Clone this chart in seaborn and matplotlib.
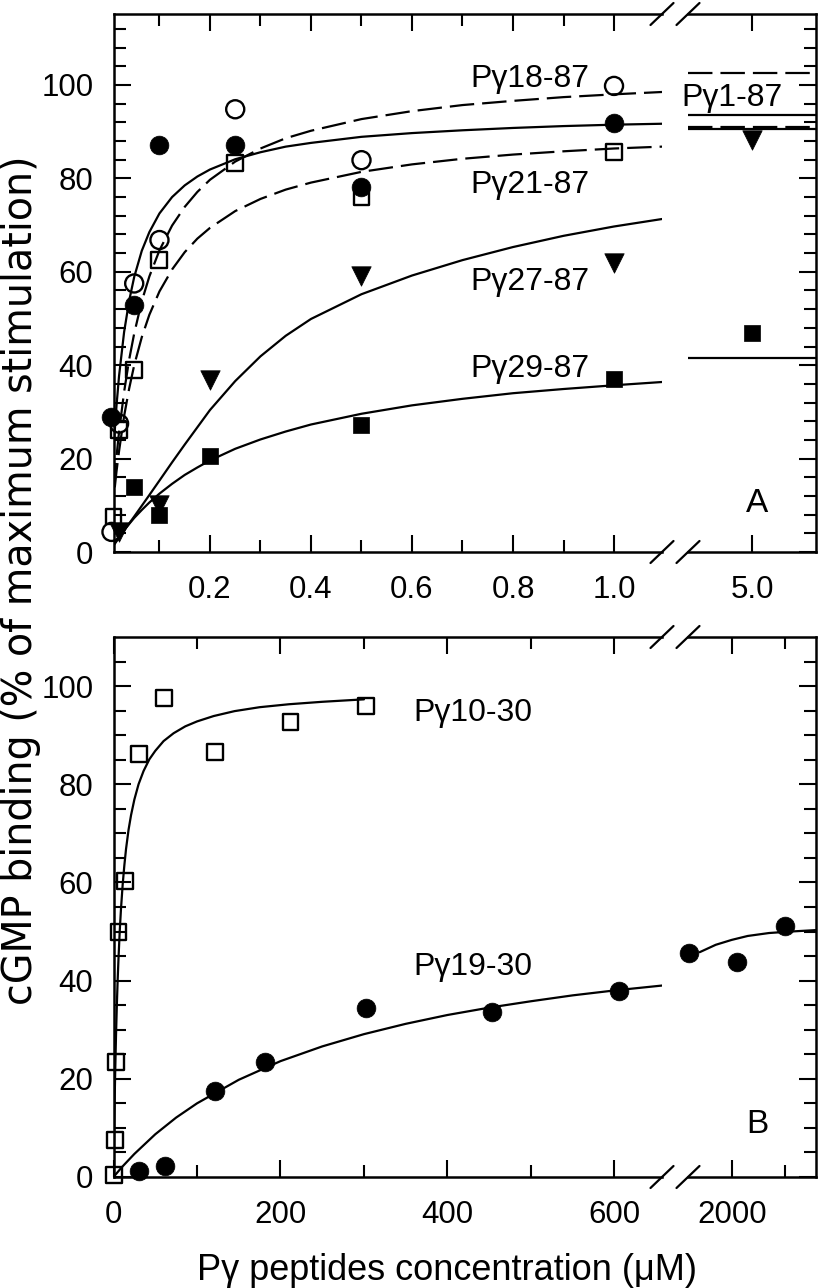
import matplotlib
matplotlib.use("Agg")
import matplotlib.pyplot as plt
import seaborn as sns

# ---------------- data ----------------
# Panel A : concentration in uM (left part 0-1.09, right part around 5.0)
a18_x = [0.005, 0.02, 0.05, 0.1, 0.25, 0.5, 1.0]
a18_y = [4.3, 27.5, 57.5, 66.8, 94.8, 83.9, 99.8]
a1_x = [0.005, 0.05, 0.1, 0.25, 0.5, 1.0]
a1_y = [29.0, 52.9, 87.2, 87.2, 78.2, 91.8]
a21_x = [0.009, 0.02, 0.05, 0.1, 0.25, 0.5, 1.0]
a21_y = [7.6, 26.1, 39.0, 62.5, 83.2, 76.1, 85.7]
a27_x = [0.02, 0.1, 0.2, 0.5, 1.0]
a27_y = [4.3, 10.1, 36.8, 59.0, 61.8]
a29_x = [0.05, 0.1, 0.2, 0.5, 1.0]
a29_y = [14.0, 7.9, 20.6, 27.2, 37.0]
a_right_x = [5.0]
a27_right_y = [88.2]
a29_right_y = [46.8]

# fitted curves, panel A
ca_x = [0, 0.005, 0.01, 0.015, 0.02, 0.03, 0.04, 0.05, 0.065, 0.08, 0.1,
        0.125, 0.15, 0.175, 0.2, 0.25, 0.3, 0.35, 0.4, 0.5, 0.6, 0.7, 0.8,
        0.9, 1.0, 1.095]
ca18_y = [0, 7.9, 14.6, 20.5, 25.7, 34.3, 41.2, 46.8, 53.7, 59.0, 64.6,
          69.9, 73.9, 77.1, 79.7, 83.6, 86.4, 88.6, 90.2, 92.7, 94.4, 95.7,
          96.6, 97.4, 98.0, 98.5]
ca1_y = [0, 13.5, 23.6, 31.4, 37.7, 47.1, 53.8, 58.9, 64.5, 68.5, 72.5,
         76.0, 78.5, 80.4, 81.9, 84.1, 85.6, 86.8, 87.6, 88.9, 89.7, 90.3,
         90.8, 91.2, 91.5, 91.7]
ca21_y = [0, 6.6, 12.3, 17.3, 21.6, 29.1, 35.0, 40.0, 46.0, 50.8, 55.8,
          60.5, 64.2, 67.1, 69.4, 73.0, 75.6, 77.6, 79.1, 81.4, 83.0, 84.2,
          85.1, 85.8, 86.4, 86.8]
ca27_y = [0, 0.8, 1.5, 2.3, 3.0, 4.6, 6.1, 7.6, 9.9, 12.2, 15.3,
          19.2, 23.0, 26.7, 30.4, 36.6, 41.9, 46.3, 49.9, 55.2, 59.2, 62.5,
          65.3, 67.7, 69.7, 71.3]
ca29_y = [0, 0.85, 1.7, 2.5, 3.2, 4.7, 6.0, 7.3, 9.0, 10.6, 12.5,
          14.6, 16.5, 18.1, 19.6, 22.1, 24.1, 25.8, 27.3, 29.6, 31.4, 32.8,
          34.0, 34.9, 35.7, 36.4]
cr_x = [4.0, 6.0]
cr18_y = [102.5, 102.5]
cr1_y = [93.6, 93.6]
cr21_y = [90.9, 90.9]
cr27_y = [90.5, 90.5]
cr29_y = [41.5, 41.5]

# Panel B : concentration in uM (left 0-657, right around 2000)
b10_x = [1.0, 2.0, 3.0, 6.0, 14.0, 31.0, 61.0, 122.0, 212.0, 302.0]
b10_y = [0.4, 7.5, 23.5, 50.0, 60.3, 86.1, 97.5, 86.6, 92.6, 96.0]
b19_x = [31, 62, 121, 182, 303, 453, 605]
b19_y = [1.2, 2.2, 17.5, 23.4, 34.4, 33.6, 37.9]
b19r_x = [1600, 2050, 2500]
b19r_y = [45.6, 43.8, 51.2]

cb10_x = [0, 0.5, 1, 1.5, 2, 3, 4, 5, 6, 7.5, 9, 11, 13, 15, 18, 21, 25, 30,
          36, 43, 50, 60, 72, 86, 100, 120, 145, 175, 210, 250, 300]
cb10_y = [0, 6.3, 11.9, 16.8, 21.2, 28.8, 35.0, 40.2, 44.6, 50.2, 54.7, 59.6,
          63.5, 66.8, 70.7, 73.7, 76.9, 80.0, 82.7, 85.1, 86.8, 88.8, 90.4,
          91.8, 92.8, 93.9, 94.9, 95.7, 96.3, 96.8, 97.3]
cb19_x = [0, 10, 25, 50, 75, 100, 150, 200, 250, 300, 350, 400, 450, 500,
          550, 600, 657]
cb19_y = [0, 2.0, 4.7, 8.7, 12.1, 15.0, 19.8, 23.6, 26.6, 29.1, 31.2, 33.0,
          34.5, 35.8, 37.0, 38.0, 39.0]
cb19r_x = [1700, 1850, 2000, 2150, 2350, 2550, 2795]
cb19r_y = [45.8, 47.3, 48.3, 49.1, 49.7, 50.0, 50.3]

# tick labels
a_xticks = [0.2, 0.4, 0.6, 0.8, 1.0]
a_xticklabels = ["0.2", "0.4", "0.6", "0.8", "1.0"]
a_xticks_r = [5.0]
a_xticklabels_r = ["5.0"]
b_xticks = [0, 200, 400, 600]
b_xticklabels = ["0", "200", "400", "600"]
b_xticks_r = [2000]
b_xticklabels_r = ["2000"]
y_ticks = [0, 20, 40, 60, 80, 100]
y_ticklabels = ["0", "20", "40", "60", "80", "100"]

# ---------------- style ----------------
sns.set_style("ticks")
plt.rcParams["font.family"] = ["Liberation Sans", "DejaVu Sans"]
plt.rcParams["text.color"] = "black"
plt.rcParams["xtick.color"] = "black"
plt.rcParams["ytick.color"] = "black"
plt.rcParams["axes.labelcolor"] = "black"
plt.rcParams["axes.linewidth"] = 1.8
plt.rcParams["axes.edgecolor"] = "black"

W, H = 820, 1288
fig = plt.figure(figsize=(W / 100, H / 100), dpi=100)
fig.patch.set_facecolor("white")


def ax_at(x0, y0, x1, y1):
    return fig.add_axes([x0 / W, 1 - y1 / H, (x1 - x0) / W, (y1 - y0) / H])


axAL = ax_at(113.5, 14, 662, 552)
axAR = ax_at(688, 14, 816.5, 552)
axBL = ax_at(113.5, 637, 662, 1177)
axBR = ax_at(688, 637, 816.5, 1177)

LW = 1.6


def curve(ax, x, y, dashed=False):
    sns.lineplot(x=x, y=y, ax=ax, color="black", lw=LW, estimator=None,
                 sort=False, legend=False)
    ln = ax.lines[-1]
    ln.set_solid_joinstyle("round")
    if dashed:
        ln.set_dashes([11, 3.6])


def pts(ax, x, y, marker, filled, ms):
    if filled:
        sns.scatterplot(x=x, y=y, ax=ax, marker=marker, s=ms ** 2,
                        color="black", edgecolor="black", linewidth=0.5,
                        legend=False, zorder=3)
    else:
        sns.scatterplot(x=x, y=y, ax=ax, marker=marker, s=ms ** 2,
                        color="black", facecolor="none", edgecolor="black",
                        linewidth=1.7, legend=False, zorder=3)
    ax.collections[-1].set_clip_on(False)


# ---- Panel A left
curve(axAL, ca_x, ca18_y, dashed=True)
curve(axAL, ca_x, ca1_y)
curve(axAL, ca_x, ca21_y, dashed=True)
curve(axAL, ca_x, ca27_y)
curve(axAL, ca_x, ca29_y)
pts(axAL, a18_x, a18_y, "o", False, 13)
pts(axAL, a1_x, a1_y, "o", True, 13.5)
pts(axAL, a21_x, a21_y, "s", False, 11.5)
pts(axAL, a27_x, a27_y, "v", True, 14)
pts(axAL, a29_x, a29_y, "s", True, 12)

# ---- Panel A right
curve(axAR, cr_x, cr18_y, dashed=True)
curve(axAR, cr_x, cr1_y)
curve(axAR, cr_x, cr21_y, dashed=True)
curve(axAR, cr_x, cr27_y)
curve(axAR, cr_x, cr29_y)
pts(axAR, a_right_x, a27_right_y, "v", True, 14)
pts(axAR, a_right_x, a29_right_y, "s", True, 12)

# ---- Panel B left
curve(axBL, cb10_x, cb10_y)
curve(axBL, cb19_x, cb19_y)
pts(axBL, b10_x, b10_y, "s", False, 11.5)
pts(axBL, b19_x, b19_y, "o", True, 13.5)

# ---- Panel B right
curve(axBR, cb19r_x, cb19r_y)
pts(axBR, b19r_x, b19r_y, "o", True, 13.5)

# ---------------- axes formatting ----------------
for ax in (axAL, axAR):
    ax.set_ylim(0, 115.2)
    ax.set_yticks(y_ticks)
    ax.set_yticks([v for v in range(4, 116, 4) if v % 20], minor=True)
for ax in (axBL, axBR):
    ax.set_ylim(0, 110)
    ax.set_yticks(y_ticks)
    ax.set_yticks([v for v in range(5, 110, 5) if v % 20], minor=True)

axAL.set_xlim(0.009, 1.095)
axAL.set_xticks(a_xticks)
axAL.set_xticklabels(a_xticklabels)
axAL.set_xticks([0.1, 0.3, 0.5, 0.7, 0.9], minor=True)
axAR.set_xlim(4.0, 6.0)
axAR.set_xticks(a_xticks_r)
axAR.set_xticklabels(a_xticklabels_r)
axAR.set_xticks([], minor=True)

axBL.set_xlim(0, 657)
axBL.set_xticks(b_xticks)
axBL.set_xticklabels(b_xticklabels)
axBL.set_xticks([100, 300, 500], minor=True)
axBR.set_xlim(1590, 2795)
axBR.set_xticks(b_xticks_r)
axBR.set_xticklabels(b_xticklabels_r)
axBR.set_xticks([2500], minor=True)

for ax in (axAL, axBL):
    ax.set_yticklabels(y_ticklabels)
    ax.spines["right"].set_visible(False)
    ax.tick_params(axis="y", which="both", left=True, right=False,
                   labelleft=True, labelright=False)
for ax in (axAR, axBR):
    ax.spines["left"].set_visible(False)
    ax.tick_params(axis="y", which="both", left=False, right=True,
                   labelleft=False, labelright=False)

for ax in (axAL, axAR, axBL, axBR):
    ax.set_facecolor("white")
    ax.set_xlabel("")
    ax.set_ylabel("")
    for sp in ax.spines.values():
        sp.set_linewidth(1.8)
        sp.set_color("black")
    ax.tick_params(which="both", direction="in", top=True, bottom=True,
                   width=1.5, colors="black", labelsize=22.5)
    ax.tick_params(which="major", length=12.5)
    ax.tick_params(which="minor", length=8.5)
    ax.tick_params(axis="x", pad=16.5)
    ax.tick_params(axis="y", pad=14.5)


# ---------------- break marks ----------------
def slash(ax, xa, ya, wpx, hpx):
    dx = 11.5 / wpx
    dy = 11.0 / hpx
    ax.plot([xa - dx, xa + dx], [ya - dy, ya + dy], transform=ax.transAxes,
            color="black", lw=1.6, clip_on=False)


for axl, axr, hpx in ((axAL, axAR, 538), (axBL, axBR, 540)):
    for ya in (0, 1):
        slash(axl, 1, ya, 548.5, hpx)
        slash(axr, 0, ya, 128.5, hpx)

# ---------------- annotations ----------------
TFS = 23
axAL.text(0.715, 99.6, "Pγ18-87", fontsize=TFS, ha="left", va="baseline")
axAL.text(0.715, 76.8, "Pγ21-87", fontsize=TFS, ha="left", va="baseline")
axAL.text(0.715, 56.1, "Pγ27-87", fontsize=TFS, ha="left", va="baseline")
axAL.text(0.715, 37.5, "Pγ29-87", fontsize=TFS, ha="left", va="baseline")
axAR.text(3.89, 95.4, "Pγ1-87", fontsize=TFS, ha="left", va="baseline")
axAR.text(5.08, 8.6, "A", fontsize=24, ha="center", va="baseline")

axBL.text(359, 92.9, "Pγ10-30", fontsize=TFS, ha="left", va="baseline")
axBL.text(359, 41.2, "Pγ19-30", fontsize=TFS, ha="left", va="baseline")
axBR.text(2242, 9.0, "B", fontsize=24, ha="center", va="baseline")

fig.text(21 / W, 1 - 580 / H, "cGMP binding (% of maximum stimulation)",
         rotation=90, ha="center", va="center", fontsize=28.5,
         family=["DejaVu Sans"])
fig.text(447.5 / W, 8 / H, "Pγ peptides concentration (μM)",
         ha="center", va="baseline", fontsize=26)

fig.savefig("out.png", dpi=100, facecolor="white")
